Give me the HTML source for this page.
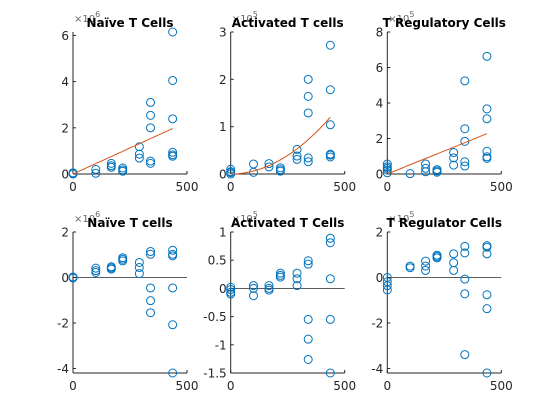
<!DOCTYPE html>
<html><head><meta charset="utf-8">
<style>
html,body{margin:0;padding:0;background:#fff;}
svg{display:block;font-family:"DejaVu Sans","Liberation Sans",sans-serif;}
</style></head>
<body>
<svg id="fig" width="560" height="420" viewBox="0 0 560 420" xmlns="http://www.w3.org/2000/svg"></svg>
<script>
// Shared x categories (days)
const days = [0, 100, 168, 218, 291, 340, 437];
// Panel titles
const titles = ["Naïve T Cells","Activated T cells","T Regulatory Cells","Naïve T cells","Activated T Cells","T Regulator Cells"];
const exponents = ["6","5","5","6","5","5"];
// Scatter values per panel: arrays of [dayIndex, value]
const naiveTop = [[0,0.05],[0,0],[0,0.02],[1,0.2],[1,0.03],[2,0.46],[2,0.29],[2,0.36],[3,0.26],[3,0.12],[3,0.18],[4,1.18],[4,0.86],[4,0.69],[5,3.1],[5,2.54],[5,2.0],[5,0.56],[5,0.46],[6,6.15],[6,4.05],[6,2.39],[6,0.94],[6,0.83],[6,0.77]];
const activatedTop = [[0,0.1],[0,0.05],[0,0],[0,0.03],[1,0.21],[1,0.035],[2,0.22],[2,0.15],[3,0.13],[3,0.06],[3,0.09],[4,0.52],[4,0.38],[4,0.31],[5,2.0],[5,1.64],[5,1.29],[5,0.34],[5,0.26],[6,2.72],[6,1.78],[6,1.04],[6,0.42],[6,0.36],[6,0.4]];
const tregTop = [[0,0.56],[0,0.32],[0,0.07],[0,0.41],[0,0.22],[1,0.02],[2,0.56],[2,0.32],[2,0.13],[3,0.25],[3,0.17],[3,0.1],[4,1.21],[4,0.91],[4,0.5],[5,5.25],[5,2.55],[5,1.84],[5,0.69],[5,0.45],[6,6.63],[6,3.67],[6,3.11],[6,1.28],[6,0.97],[6,0.88]];
const naiveBot = [[0,0],[0,0.02],[0,-0.02],[1,0.41],[1,0.22],[1,0.3],[2,0.47],[2,0.37],[2,0.42],[3,0.87],[3,0.73],[3,0.8],[4,0.66],[4,0.44],[4,0.17],[5,1.14],[5,1.02],[5,-0.46],[5,-1.02],[5,-1.55],[6,1.2],[6,1.02],[6,0.95],[6,-0.46],[6,-2.08],[6,-4.2]];
const activatedBot = [[0,0.02],[0,-0.02],[0,-0.07],[0,-0.1],[1,0.05],[1,0],[1,-0.13],[2,0.05],[2,0],[2,-0.03],[3,0.27],[3,0.23],[3,0.2],[4,0.27],[4,0.17],[4,0.05],[5,0.49],[5,0.43],[5,-0.55],[5,-0.9],[5,-1.26],[6,0.89],[6,0.81],[6,0.17],[6,-0.55],[6,-1.5]];
const tregBot = [[0,0],[0,-0.19],[0,-0.36],[0,-0.55],[1,0.5],[1,0.43],[2,0.72],[2,0.5],[2,0.31],[3,0.98],[3,0.86],[3,0.92],[4,1.04],[4,0.65],[4,0.31],[5,1.37],[5,1.08],[5,-0.07],[5,-0.72],[5,-3.39],[6,1.4],[6,1.33],[6,1.04],[6,-0.76],[6,-1.37],[6,-4.2]];
// Y limits and ticks per panel
const yMins = [0,0,0,-4.2,-1.5,-4.2];
const yMaxs = [6.15,3,8,2,1,2];
const yTicks = [[0,2,4,6],[0,1,2,3],[0,2,4,6,8],[-4,-2,0,2],[-1.5,-1,-0.5,0,0.5,1],[-4,-2,0,2]];
const xTicks = [0, 500];
// Fit lines (top row): linear slope per unit day, or quadratic coefficient
const fitSlope = [1.97/437, null, 2.27/437];
const fitQuad = [null, 1.2/(437*437), null];
const fitEnd = 437;

const allData = [naiveTop, activatedTop, tregTop, naiveBot, activatedBot, tregBot];
const colX = [73, 230.7, 387.3];
const axW = 114;
const rowY = [[32,174],[232,373]];
const NS = "http://www.w3.org/2000/svg";
const svg = document.getElementById("fig");
function mk(tag, attrs, parent){
  const e = document.createElementNS(NS, tag);
  for (const k in attrs) e.setAttribute(k, attrs[k]);
  (parent||svg).appendChild(e);
  return e;
}
for (let p = 0; p < 6; p++) {
  const c = p % 3, r = Math.floor(p / 3);
  const x0 = colX[c], x1 = x0 + axW, yTop = rowY[r][0], yBot = rowY[r][1];
  const sx = v => x0 + v / 500 * axW;
  const sy = v => yBot - (v - yMins[p]) / (yMaxs[p] - yMins[p]) * (yBot - yTop);
  const g = mk("g", {});
  
  
  if (r === 1) {
    const zl = mk("line", {x1:x0, x2:x1, y1:sy(0), y2:sy(0), stroke:"#262626", "stroke-width":0.8}, g);
    
    
  }
  const ya = mk("line", {x1:x0, x2:x0, y1:yTop, y2:yBot, stroke:"#262626", "stroke-width":1}, g);
  
  
  const xa = mk("line", {x1:x0, x2:x1, y1:yBot, y2:yBot, stroke:"#262626", "stroke-width":1}, g);
  
  
  yTicks[p].forEach(t => {
    const y = sy(t);
    mk("line", {x1:x0, x2:x0+3, y1:y, y2:y, stroke:"#262626", "stroke-width":1}, g);
    const tl = mk("text", {x:x0-4, y:y+4.5, "text-anchor":"end", "font-size":12, fill:"#262626"}, g);
    tl.textContent = String(t);
    
    
  });
  xTicks.forEach(t => {
    const x = sx(t);
    mk("line", {x1:x, x2:x, y1:yBot, y2:yBot-3, stroke:"#262626", "stroke-width":1}, g);
    const tl = mk("text", {x:x, y:yBot+17, "text-anchor":"middle", "font-size":12, fill:"#262626"}, g);
    tl.textContent = String(t);
    
    
  });
  const ex = mk("text", {x:x0+1, y:yTop-10, "font-size":10, fill:"#666"}, g);
  ex.innerHTML = '×10<tspan dy="-5" font-size="8">' + exponents[p] + '</tspan>';
  
  
  allData[p].forEach(d => {
    const ci = mk("circle", {cx:sx(days[d[0]]), cy:sy(d[1]), r:4, fill:"none", stroke:"#0072BD", "stroke-width":1}, g);
    
    
  });
  if (r === 0) {
    let pts = [];
    for (let i = 0; i <= 40; i++) {
      const xv = fitEnd * i / 40;
      const yv = fitSlope[c] !== null ? fitSlope[c] * xv : fitQuad[c] * xv * xv;
      pts.push(sx(xv).toFixed(1) + "," + sy(yv).toFixed(1));
    }
    const fl = mk("polyline", {points:pts.join(" "), fill:"none", stroke:"#D95319", "stroke-width":1}, g);
    
    
  }
  const ti = mk("text", {x:x0+axW/2, y:yTop-5, "text-anchor":"middle", "font-size":12, "font-weight":"bold", fill:"#000"}, g);
  ti.textContent = titles[p];
  
  
}
</script>
</body></html>
